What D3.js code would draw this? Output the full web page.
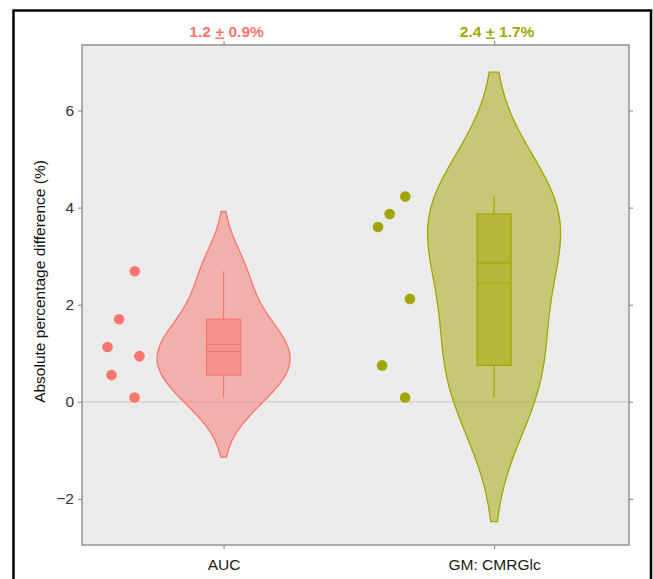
<!DOCTYPE html>
<html>
<head>
<meta charset="utf-8">
<script src="https://cdn.jsdelivr.net/npm/d3@7"></script>
<style>
  body { margin: 0; background: #fff; }
  svg { display: block; }
  text { font-family: "Liberation Sans", Arial, Helvetica, sans-serif; }
</style>
</head>
<body>
<svg id="chart" width="653" height="579"></svg>
<script>
// ---- data -------------------------------------------------------------
const categories = ["AUC", "GM: CMRGlc"];
const seriesColors = ["#f8766d", "#a3a500"];
// absolute percentage difference per subject (%)
const aucValues = [2.69, 1.70, 1.13, 0.94, 0.55, 0.09];
const gmValues  = [4.23, 3.87, 3.60, 2.12, 0.75, 0.09];
// horizontal placement of each subject's dot, in category-step units
const subjectOffsets = [-0.328, -0.386, -0.429, -0.311, -0.414, -0.329];
// kernel density bandwidth for each violin
const bandwidths = [0.615, 1.28];
const densityCut = 2;
const yDomain = [-2.95, 7.35];
const yTicks = [-2, 0, 2, 4, 6];

// ---- layout -----------------------------------------------------------
const panel = { left: 82, top: 45, right: 629, bottom: 545 };
const violinHalfWidth = 66.5;
const boxHalfWidth = 17;
const fontSize = 15.5;

const svg = d3.select("#chart");

const x = d3.scalePoint()
  .domain(categories)
  .range([panel.left, panel.right])
  .padding(0.511)
  .align(0.512);
const y = d3.scaleLinear().domain(yDomain).range([panel.bottom, panel.top]);

// outer frame
svg.append("rect")
  .attr("x", 13.5).attr("y", 10.5)
  .attr("width", 637.5).attr("height", 620)
  .attr("fill", "none").attr("stroke", "#000").attr("stroke-width", 2.5);

// panel background
svg.append("rect")
  .attr("x", panel.left).attr("y", panel.top)
  .attr("width", panel.right - panel.left).attr("height", panel.bottom - panel.top)
  .attr("fill", "#ebebeb");

// reference line at zero
svg.append("line")
  .attr("x1", panel.left).attr("x2", panel.right)
  .attr("y1", y(0)).attr("y2", y(0))
  .attr("stroke", "#dbcaca").attr("stroke-width", 1.2);

// ---- statistics -------------------------------------------------------
function gaussianKde(values, bw, lo, hi, n) {
  const out = [];
  const norm = values.length * bw * Math.sqrt(2 * Math.PI);
  for (let k = 0; k < n; k++) {
    const v = lo + (hi - lo) * k / (n - 1);
    let s = 0;
    for (const xi of values) { const u = (v - xi) / bw; s += Math.exp(-0.5 * u * u); }
    out.push({ v, d: s / norm });
  }
  return out;
}
// Tukey five-number summary (hinges)
function fivenum(values) {
  const s = values.slice().sort(d3.ascending);
  const n = s.length;
  const n4 = Math.floor((n + 3) / 2) / 2;
  const idx = [1, n4, (n + 1) / 2, n + 1 - n4, n];
  return idx.map(k => 0.5 * (s[Math.floor(k) - 1] + s[Math.ceil(k) - 1]));
}

const groups = categories.map((name, i) => {
  const values = [aucValues, gmValues][i];
  const bw = bandwidths[i];
  const lo = d3.min(values) - densityCut * bw;
  const hi = d3.max(values) + densityCut * bw;
  const density = gaussianKde(values, bw, lo, hi, 512);
  const [mn, q1, med, q3, mx] = fivenum(values);
  return {
    name, values, color: seriesColors[i], density,
    mn, q1, med, q3, mx,
    mean: d3.mean(values), sd: d3.deviation(values)
  };
});

// ---- violins ----------------------------------------------------------
groups.forEach(g => {
  const cx = x(g.name);
  const w = d3.scaleLinear().domain([0, d3.max(g.density, d => d.d)]).range([0, violinHalfWidth]);
  const area = d3.area()
    .y(d => y(d.v))
    .x0(d => cx - w(d.d))
    .x1(d => cx + w(d.d))
    .curve(d3.curveLinear);
  svg.append("path")
    .datum(g.density)
    .attr("d", area)
    .attr("fill", g.color).attr("fill-opacity", 0.5)
    .attr("stroke", g.color).attr("stroke-width", 1.3)
    .attr("stroke-linejoin", "round");
});

// ---- box plots --------------------------------------------------------
groups.forEach(g => {
  const cx = x(g.name);
  const gBox = svg.append("g").attr("stroke", g.color);
  gBox.append("line")
    .attr("x1", cx).attr("x2", cx).attr("y1", y(g.q3)).attr("y2", y(g.mx))
    .attr("stroke-width", 1.2);
  gBox.append("line")
    .attr("x1", cx).attr("x2", cx).attr("y1", y(g.q1)).attr("y2", y(g.mn))
    .attr("stroke-width", 1.2);
  gBox.append("rect")
    .attr("x", cx - boxHalfWidth).attr("width", boxHalfWidth * 2)
    .attr("y", y(g.q3)).attr("height", y(g.q1) - y(g.q3))
    .attr("fill", g.color).attr("fill-opacity", 0.5)
    .attr("stroke-width", 1.2);
  gBox.append("line")
    .attr("x1", cx - boxHalfWidth).attr("x2", cx + boxHalfWidth)
    .attr("y1", y(g.med)).attr("y2", y(g.med))
    .attr("stroke-width", 1.2);
  gBox.append("line")
    .attr("x1", cx - boxHalfWidth).attr("x2", cx + boxHalfWidth)
    .attr("y1", y(g.mean)).attr("y2", y(g.mean))
    .attr("stroke-width", 1.2).attr("stroke-dasharray", "2.5,1.5");
});

// ---- subject dots -----------------------------------------------------
const step = x.step();
groups.forEach(g => {
  svg.append("g").selectAll("circle")
    .data(g.values)
    .join("circle")
    .attr("cx", (d, i) => x(g.name) + subjectOffsets[i] * step)
    .attr("cy", d => y(d))
    .attr("r", 5.3)
    .attr("fill", g.color);
});

// ---- axes -------------------------------------------------------------
const tickColor = "#8a8a8a";
function styleAxis(sel) {
  sel.select(".domain").remove();
  sel.selectAll(".tick line").attr("stroke", tickColor).attr("stroke-width", 1.1);
  sel.selectAll(".tick text")
    .attr("font-size", fontSize)
    .attr("fill", "#333")
    .attr("font-family", "'Liberation Sans', Arial, sans-serif");
}

svg.append("g")
  .attr("transform", `translate(${panel.left},0)`)
  .call(d3.axisLeft(y).tickValues(yTicks).tickSize(4).tickPadding(4))
  .call(styleAxis);

svg.append("g")
  .attr("transform", `translate(${panel.right},0)`)
  .call(d3.axisRight(y).tickValues(yTicks).tickSize(4).tickFormat(""))
  .call(styleAxis);

svg.append("g")
  .attr("transform", `translate(0,${panel.bottom})`)
  .call(d3.axisBottom(x).tickSize(4).tickPadding(10))
  .call(styleAxis)
  .call(s => s.selectAll(".tick text").attr("fill", "#1a1a1a"));

svg.append("g")
  .attr("transform", `translate(0,${panel.top})`)
  .call(d3.axisTop(x).tickSize(4).tickFormat(""))
  .call(styleAxis);

// summary labels above the panel: mean ± SD
const fmt = d3.format(".1f");
groups.forEach(g => {
  const t = svg.append("text")
    .attr("x", x(g.name) + 3)
    .attr("y", 36.5)
    .attr("text-anchor", "middle")
    .attr("font-size", fontSize)
    .attr("font-weight", "bold")
    .attr("fill", g.color);
  t.append("tspan").text(fmt(g.mean) + " ");
  t.append("tspan").attr("text-decoration", "underline").text("+");
  t.append("tspan").text(" " + fmt(g.sd) + "%");
});

// y-axis title
svg.append("text")
  .attr("transform", `translate(45,${281.5}) rotate(-90)`)
  .attr("text-anchor", "middle")
  .attr("font-size", fontSize)
  .attr("fill", "#111")
  .text("Absolute percentage difference (%)");

// panel border
svg.append("rect")
  .attr("x", panel.left).attr("y", panel.top)
  .attr("width", panel.right - panel.left).attr("height", panel.bottom - panel.top)
  .attr("fill", "none").attr("stroke", "#8c8c8c").attr("stroke-width", 1.4);
</script>
</body>
</html>
